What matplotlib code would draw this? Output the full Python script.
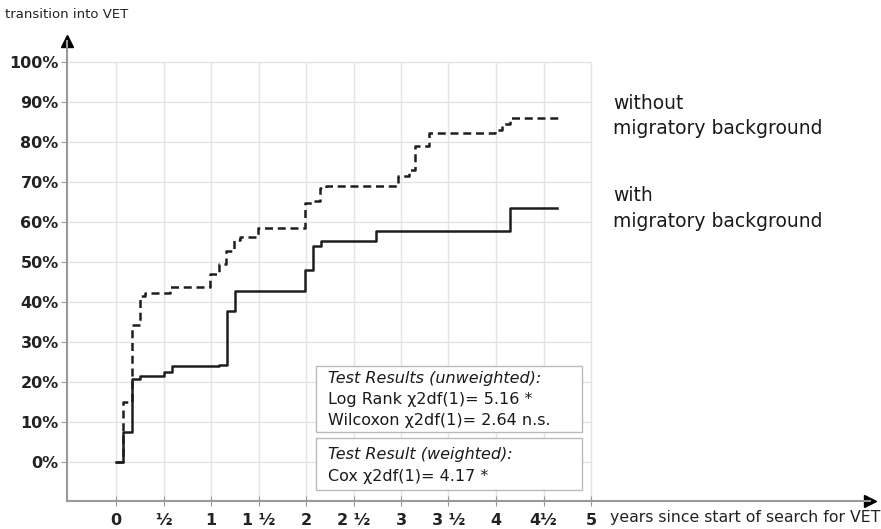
import matplotlib
matplotlib.use("Agg")
import matplotlib.pyplot as plt
from matplotlib.patches import Rectangle

# transition into VET, cumulative %, step changes
years_with = [0, 0.077, 0.165, 0.25, 0.50, 0.585, 1.08, 1.165, 1.25, 1.99, 2.07, 2.16, 2.74, 4.15, 4.64]
pct_with = [0, 7.4, 20.8, 21.4, 22.4, 23.9, 24.3, 37.8, 42.8, 48.0, 53.9, 55.2, 57.7, 63.5, 63.5]

years_without = [0, 0.077, 0.165, 0.25, 0.31, 0.57, 0.99, 1.08, 1.16, 1.24, 1.30, 1.49,
                 1.99, 2.07, 2.15, 2.21, 2.97, 3.08, 3.15, 3.30, 3.99, 4.06, 4.15, 4.67]
pct_without = [0, 15.0, 34.3, 41.6, 42.2, 43.7, 47.0, 49.5, 52.8, 55.5, 56.2, 58.5,
               64.8, 65.3, 68.4, 69.0, 71.4, 73.0, 79.0, 82.2, 83.0, 84.5, 86.0, 86.0]

y_ticks = [0, 10, 20, 30, 40, 50, 60, 70, 80, 90, 100]
x_ticks = [0, 0.5, 1, 1.5, 2, 2.5, 3, 3.5, 4, 4.5, 5]
x_tick_labels = ["0", "½", "1", "1 ½", "2", "2 ½", "3", "3 ½", "4", "4½", "5"]

label_without = "without\nmigratory background"
label_with = "with\nmigratory background"
box1_lines = ["Test Results (unweighted):", "Log Rank χ2df(1)= 5.16 *", "Wilcoxon χ2df(1)= 2.64 n.s."]
box2_lines = ["Test Result (weighted):", "Cox χ2df(1)= 4.17 *"]


def main():
    plt.rcParams["font.family"] = ["DejaVu Sans"]
    fig = plt.figure(figsize=(8.81, 5.29), dpi=100)
    # axes box: y axis at x=67px, x axis at y=501px, arrow ends at 870 / 41
    ax = fig.add_axes([67 / 881, 28 / 529, 803 / 881, 460 / 529])

    ax.set_xlim(-49 / 95, 754 / 95)
    ax.set_ylim(-39 / 4, 421 / 4)

    axis_col = "#999999"
    grid_col = "#e4e4e4"
    xmin = ax.get_xlim()[0]

    # grid only over the data area
    ax.hlines(y_ticks, xmin, 5, color=grid_col, lw=1, zorder=0)
    ax.vlines(x_ticks, ax.get_ylim()[0], 100, color=grid_col, lw=1, zorder=0)

    ax.step(years_with, pct_with, where="post", color="#1e1e1e", lw=1.8, zorder=3)
    ax.step(years_without, pct_without, where="post", color="#1e1e1e", lw=1.8,
            dashes=(3.2, 1.9), zorder=3)

    for s in ["top", "right"]:
        ax.spines[s].set_visible(False)
    for s in ["left", "bottom"]:
        ax.spines[s].set_color(axis_col)
        ax.spines[s].set_linewidth(1.5)

    ax.plot(0, 1, "^", color="black", ms=9, transform=ax.transAxes, clip_on=False)
    ax.plot(1, 0, ">", color="black", ms=9, transform=ax.transAxes, clip_on=False)

    ax.set_yticks(y_ticks)
    ax.set_yticklabels([f"{v}%" for v in y_ticks], fontsize=11.5, fontweight="bold", color="#222222")
    ax.set_xticks(x_ticks)
    ax.set_xticklabels(x_tick_labels, fontsize=11.5, fontweight="bold", color="#222222")
    ax.tick_params(axis="y", length=4, color=axis_col, pad=2)
    ax.tick_params(axis="x", length=7, direction="inout", color=axis_col, pad=5)

    fig.text(5 / 881, 1 - 14 / 529, "transition into VET", fontsize=9.5, va="center", color="#222222")
    ax.text(5.2, -13.8, "years since start of search for VET", fontsize=11.3,
            va="center", ha="left", color="#222222")

    ax.text(5.23, 86.5, label_without, fontsize=13.5, va="center", ha="left",
            linespacing=1.45, color="#1a1a1a")
    ax.text(5.23, 63.4, label_with, fontsize=13.5, va="center", ha="left",
            linespacing=1.45, color="#1a1a1a")

    # test result boxes
    ax.add_patch(Rectangle((2.10, 7.6), 2.81, 16.4, facecolor="white",
                           edgecolor="#bbbbbb", lw=1, zorder=4))
    ax.add_patch(Rectangle((2.10, -7.0), 2.81, 13.1, facecolor="white",
                           edgecolor="#bbbbbb", lw=1, zorder=4))
    for i, line in enumerate(box1_lines):
        ax.text(2.23, 21.0 - 5.3 * i, line, fontsize=11.5, va="center", ha="left", zorder=5,
                style="italic" if i == 0 else "normal", color="#1a1a1a")
    for i, line in enumerate(box2_lines):
        ax.text(2.23, 1.8 - 5.3 * i, line, fontsize=11.5, va="center", ha="left", zorder=5,
                style="italic" if i == 0 else "normal", color="#1a1a1a")

    fig.savefig("out.png", dpi=100)


if __name__ == "__main__":
    main()
